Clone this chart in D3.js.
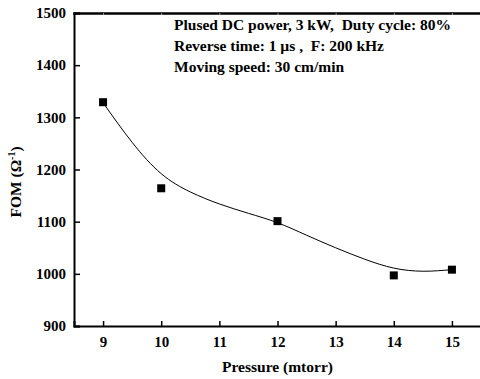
<!DOCTYPE html>
<html lang="en">
<head>
    <meta charset="UTF-8">
    <title>FOM vs Pressure</title>
    <script src="https://d3js.org/d3.v7.min.js"></script>
    <style>
        body { margin: 0; background: #fff; }
        text { font-family: "Liberation Serif", "Times New Roman", serif; font-weight: bold; fill: #000; white-space: pre; }
    </style>
</head>
<body>
<script>
        // Data
        const pressure = [9, 10, 12, 14, 15];
        const fom = [1329, 1164, 1101, 997, 1008];

        // fitted curve
        const fitX = [9, 9.5, 10, 10.5, 11, 11.5, 12, 12.5, 13, 13.5, 14, 14.5, 15];
        const fitY = [1328, 1252, 1192, 1157, 1134, 1116, 1098, 1074, 1050, 1028, 1011, 1005, 1008];

        const xTicks = [9, 10, 11, 12, 13, 14, 15];
        const yTicks = [900, 1000, 1100, 1200, 1300, 1400, 1500];

        const notes = [
            "Plused DC power, 3 kW,  Duty cycle: 80%",
            "Reverse time: 1 \u00b5s ,  F: 200 kHz",
            "Moving speed: 30 cm/min"
        ];

        // Set up
        const width = 480;
        const height = 379;
        const margin = { left: 74, top: 13, right: -1, bottom: 53 };

        const x = d3.scaleLinear()
            .domain([8.5, 15.5])
            .range([margin.left, width - margin.right]);

        const y = d3.scaleLinear()
            .domain([900, 1500])
            .range([height - margin.bottom, margin.top]);

        const svg = d3.select("body").append("svg")
            .attr("width", width)
            .attr("height", height);

        // bottom axis
        svg.append("g")
            .attr("transform", `translate(0,${y(900)})`)
            .call(d3.axisBottom(x).tickValues(xTicks).tickSize(-5).tickPadding(10).tickFormat(d3.format("d")))
            .call(g => g.select(".domain").attr("stroke-width", 2))
            .call(g => g.selectAll(".tick line").attr("stroke-width", 1.5))
            .call(g => g.selectAll(".tick text").attr("font-size", 15));

        // left axis
        svg.append("g")
            .attr("transform", `translate(${x(8.5)},0)`)
            .call(d3.axisLeft(y).tickValues(yTicks).tickSize(-6).tickPadding(8).tickFormat(d3.format("d")))
            .call(g => g.select(".domain").attr("stroke-width", 2))
            .call(g => g.selectAll(".tick line").attr("stroke-width", 1.5))
            .call(g => g.selectAll(".tick text").attr("font-size", 15));

        // top frame
        svg.append("g")
            .attr("transform", `translate(0,${y(1500)})`)
            .call(d3.axisTop(x).tickValues(xTicks).tickSize(-2).tickFormat(""))
            .call(g => g.select(".domain").attr("stroke-width", 2.5))
            .call(g => g.selectAll(".tick line").attr("stroke", "#999"));

        // fitted line
        const fit = fitX.map((v, i) => [v, fitY[i]]);
        svg.append("path")
            .datum(fit)
            .attr("fill", "none")
            .attr("stroke", "#000")
            .attr("stroke-width", 1)
            .attr("d", d3.line().x(d => x(d[0])).y(d => y(d[1])).curve(d3.curveNatural));

        // markers
        svg.append("g")
            .selectAll("rect")
            .data(pressure)
            .join("rect")
            .attr("x", (d) => x(d) - 4)
            .attr("y", (d, i) => y(fom[i]) - 4)
            .attr("width", 8)
            .attr("height", 8)
            .attr("fill", "#000");

        // notes
        svg.append("g")
            .selectAll("text")
            .data(notes)
            .join("text")
            .attr("x", 174)
            .attr("y", (d, i) => 30 + i * 21)
            .attr("font-size", 15.5)
            .text(d => d);

        // axis titles
        svg.append("text")
            .attr("x", (x(8.5) + x(15.5)) / 2)
            .attr("y", 372)
            .attr("text-anchor", "middle")
            .attr("font-size", 15.5)
            .text("Pressure (mtorr)");

        const yt = svg.append("text")
            .attr("transform", "translate(21,182) rotate(-90)")
            .attr("text-anchor", "middle")
            .attr("font-size", 15.5);
        yt.append("tspan").text("FOM (\u03a9");
        yt.append("tspan").attr("dy", -6).attr("font-size", 10).text("-1");
        yt.append("tspan").attr("dy", 6).text(")");
</script>
</body>
</html>
